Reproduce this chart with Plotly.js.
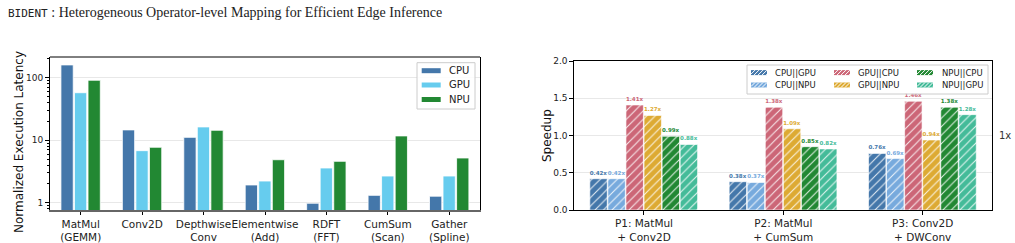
<!DOCTYPE html>
<html>
<head>
<meta charset="utf-8">
<script src="https://cdn.plot.ly/plotly-3.0.1.min.js"></script>
<style>html,body{margin:0;padding:0;background:#fff}</style>
</head>
<body>
<div id="chart" style="width:1015px;height:243px"></div>
<script>
// ---- latency panel data (normalized, log scale) ----
const ops = ['MatMul<br>(GEMM)', 'Conv2D', 'Depthwise<br>Conv', 'Elementwise<br>(Add)', 'RDFT<br>(FFT)', 'CumSum<br>(Scan)', 'Gather<br>(Spline)'];
const cpuLatency = [160, 14.6, 11.1, 1.92, 0.98, 1.31, 1.27];
const gpuLatency = [57.5, 6.8, 16.3, 2.22, 3.59, 2.67, 2.67];
const npuLatency = [91, 7.7, 14.4, 4.87, 4.59, 11.7, 5.19];
const devices = ['CPU', 'GPU', 'NPU'];

// ---- speedup panel data ----
const pairs = ['P1: MatMul<br>+ Conv2D', 'P2: MatMul<br>+ CumSum', 'P3: Conv2D<br>+ DWConv'];
const mappings = ['CPU||GPU', 'CPU||NPU', 'GPU||CPU', 'GPU||NPU', 'NPU||CPU', 'NPU||GPU'];
const cpuGpu = [0.42, 0.38, 0.76];
const cpuNpu = [0.42, 0.37, 0.69];
const gpuCpu = [1.41, 1.38, 1.46];
const gpuNpu = [1.27, 1.09, 0.94];
const npuCpu = [0.99, 0.85, 1.38];
const npuGpu = [0.88, 0.82, 1.28];

const W = 1015, H = 243;
const px = x => x / W;
const py = y => (H - y) / H;
const FONT = 'DejaVu Sans';

const devColors = ['#4477AA', '#66CCEE', '#228833'];
const mapColors = ['#4477AA', '#77AADD', '#CC6677', '#DDAA33', '#228833', '#44BB99'];

const traces = [];
const latency = [cpuLatency, gpuLatency, npuLatency];
const devOffsets = [-0.322, -0.102, 0.119];
latency.forEach((vals, i) => {
  traces.push({
    type: 'bar', x: ops, y: vals, name: devices[i],
    xaxis: 'x', yaxis: 'y', showlegend: false,
    width: 0.2, offset: devOffsets[i],
    marker: {color: devColors[i], line: {color: '#ffffff', width: 0.8}},
    hoverinfo: 'x+y+name'
  });
});

const speedups = [cpuGpu, cpuNpu, gpuCpu, gpuNpu, npuCpu, npuGpu];
speedups.forEach((vals, i) => {
  traces.push({
    type: 'bar', x: pairs, y: vals, name: mappings[i],
    xaxis: 'x2', yaxis: 'y2', showlegend: false,
    width: 0.125, offset: -0.3886 + i * 0.1297,
    marker: {
      color: mapColors[i],
      line: {color: 'rgba(255,255,255,0.8)', width: 0.8},
      pattern: {shape: '/', fgcolor: '#ffffff', bgcolor: mapColors[i], size: 6, solidity: 0.18, fgopacity: 0.85}
    },
    texttemplate: '<b>%{y:.2f}x</b>', textposition: 'outside', constraintext: 'none',
    textfont: {family: FONT, size: 5.5, color: mapColors[i]},
    cliponaxis: false
  });
});

const shapes = [];
const annotations = [];

// top spine of the latency panel
shapes.push({type: 'line', xref: 'x domain', yref: 'y domain', x0: 0, x1: 1, y0: 1, y1: 1, line: {color: '#000', width: 1}});
// parity reference at 1x
shapes.push({type: 'line', xref: 'x2 domain', yref: 'y2', x0: 0, x1: 1, y0: 1, y1: 1, layer: 'below', line: {color: '#000', width: 1, dash: 'dash'}});

// legend helpers (drawn in pixel space, converted to paper)
function box(x0, y0, x1, y1) {
  shapes.push({type: 'rect', xref: 'paper', yref: 'paper', x0: px(x0), x1: px(x1), y0: py(y1), y1: py(y0),
    fillcolor: 'rgba(255,255,255,0.85)', line: {color: '#cccccc', width: 1}});
}
function swatch(x0, yc, w, h, color, hatch) {
  const top = yc - h / 2, bot = yc + h / 2;
  shapes.push({type: 'rect', xref: 'paper', yref: 'paper', x0: px(x0), x1: px(x0 + w), y0: py(bot), y1: py(top),
    fillcolor: color, line: {width: 0}});
  if (hatch) {
    let d = '';
    for (let a = x0 - h; a < x0 + w; a += 4) {
      let xa = a, ya = bot, xb = a + h, yb = top;
      if (xa < x0) { ya = bot - (x0 - xa); xa = x0; }
      if (xb > x0 + w) { yb = top + (xb - (x0 + w)); xb = x0 + w; }
      if (xb <= xa) continue;
      d += `M${px(xa)},${py(ya)}L${px(xb)},${py(yb)}`;
    }
    shapes.push({type: 'path', xref: 'paper', yref: 'paper', path: d, line: {color: '#ffffff', width: 1}});
  }
}
function label(x, yc, text, size) {
  annotations.push({xref: 'paper', yref: 'paper', x: px(x), y: py(yc), xanchor: 'left', yanchor: 'middle',
    text: text, showarrow: false, font: {family: FONT, size: size, color: '#222'}});
}

// latency legend
box(417, 62.7, 475, 109);
const devRows = [70.7, 85, 99.5];
devices.forEach((d, i) => { swatch(421.7, devRows[i], 19, 5, devColors[i], false); label(447, devRows[i], d, 10); });

// speedup legend: three columns of two
box(747, 65, 988, 94);
const colSw = [751, 834, 917], colTx = [773, 856, 940], rowY = [72.6, 85];
mappings.forEach((m, i) => {
  const c = Math.floor(i / 2), r = i % 2;
  swatch(colSw[c], rowY[r], 16, 5, mapColors[i], true);
  label(colTx[c], rowY[r], m, 8.5);
});

// axis titles
annotations.push({xref: 'paper', yref: 'paper', x: px(19), y: py(142), xanchor: 'center', yanchor: 'middle', textangle: -90, showarrow: false,
  text: 'Normalized Execution Latency', font: {family: FONT, size: 12, color: '#111'}});
annotations.push({xref: 'paper', yref: 'paper', x: px(547), y: py(136), xanchor: 'center', yanchor: 'middle', textangle: -90, showarrow: false,
  text: 'Speedup', font: {family: FONT, size: 12, color: '#111'}});
// 1x marker
annotations.push({xref: 'paper', yref: 'y2', x: px(1005), y: 1, xanchor: 'center', yanchor: 'middle', showarrow: false,
  text: '1x', font: {family: FONT, size: 10, color: '#333'}});
// page header
annotations.push({xref: 'paper', yref: 'paper', x: px(6), y: py(12), xanchor: 'left', yanchor: 'middle', showarrow: false,
  text: '<span style="font-family:\'DejaVu Sans Mono\';font-size:11px">BIDENT</span> : Heterogeneous Operator-level Mapping for Efficient Edge Inference',
  font: {family: 'Liberation Serif', size: 14, color: '#222'}});

const xTickFont = {family: FONT, size: 10.5, color: '#222'};
const yTickFont = {family: FONT, size: 9, color: '#222'};

const layout = {
  width: W, height: H,
  margin: {l: 0, r: 0, t: 0, b: 0},
  paper_bgcolor: '#ffffff', plot_bgcolor: '#ffffff',
  barmode: 'overlay',
  showlegend: false,
  font: {family: FONT},
  xaxis: {
    domain: [px(50), px(480)], anchor: 'y', type: 'category', range: [-0.5, 6.5],
    showline: true, linecolor: '#666', linewidth: 1.5, mirror: false, tickangle: 0,
    ticks: 'outside', ticklen: 3.5, tickcolor: '#000', tickfont: xTickFont, showgrid: false, zeroline: false
  },
  yaxis: {
    domain: [py(210), py(57)], anchor: 'x', type: 'log', range: [-0.117, 2.331],
    tickvals: [1, 10, 100], ticktext: ['1', '10', '100'],
    showline: true, linecolor: '#000', linewidth: 1, mirror: true,
    ticks: 'outside', ticklen: 4, tickcolor: '#000', tickfont: yTickFont,
    showgrid: true, gridcolor: '#e8e8e8', gridwidth: 1, zeroline: false,
    minor: {ticks: 'outside', ticklen: 2, tickcolor: '#000', dtick: 'D1', showgrid: false}
  },
  xaxis2: {
    domain: [px(574.3), px(992.3)], anchor: 'y2', type: 'category', range: [-0.5, 2.5],
    showline: true, linecolor: '#000', linewidth: 1, mirror: true, tickangle: 0,
    ticks: 'outside', ticklen: 3.5, tickcolor: '#000', tickfont: xTickFont, showgrid: false, zeroline: false
  },
  yaxis2: {
    domain: [py(210), py(61)], anchor: 'x2', range: [0, 2.0],
    tickvals: [0, 0.5, 1.0, 1.5, 2.0], tickformat: '.1f',
    showline: true, linecolor: '#000', linewidth: 1, mirror: true,
    ticks: 'outside', ticklen: 4, tickcolor: '#000', tickfont: yTickFont,
    showgrid: true, gridcolor: '#e8e8e8', gridwidth: 1, zeroline: false
  },
  shapes: shapes,
  annotations: annotations
};

Plotly.newPlot('chart', traces, layout, {displayModeBar: false, staticPlot: true});
</script>
</body>
</html>
